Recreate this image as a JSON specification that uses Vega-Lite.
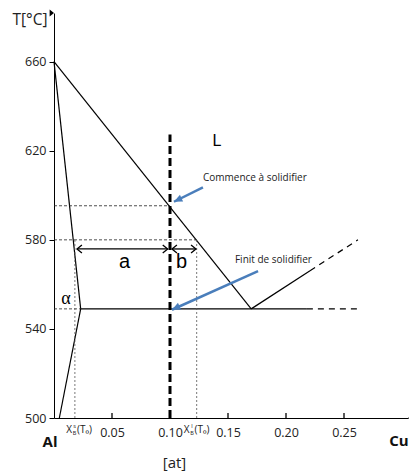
{
  "$schema": "https://vega.github.io/schema/vega-lite/v6.json",
  "width": 354,
  "height": 405,
  "autosize": {"type": "none"},
  "padding": {"left": 54, "top": 13, "right": 1, "bottom": 54},
  "config": {"view": {"stroke": null}, "font": "Open Sans"},
  "datasets": {
    "phase": [
      {"part": "liquidus", "x": 0, "t": 660, "x2": 0.17, "t2": 549},
      {"part": "solidus", "x": 0, "t": 660, "x2": 0.023, "t2": 549},
      {"part": "solvus", "x": 0.023, "t": 549, "x2": 0.0046, "t2": 500},
      {"part": "eutectic", "x": 0.023, "t": 549, "x2": 0.218, "t2": 549},
      {"part": "theta liquidus", "x": 0.17, "t": 549, "x2": 0.2207, "t2": 566.1}
    ],
    "phaseDashed": [
      {"part": "eutectic", "x": 0.218, "t": 549, "x2": 0.265, "t2": 549},
      {"part": "theta liquidus", "x": 0.2207, "t": 566.1, "x2": 0.262, "t2": 580}
    ],
    "guides": [
      {"x": 0, "t": 595.3, "x2": 0.1, "t2": 595.3},
      {"x": 0, "t": 580, "x2": 0.123, "t2": 580},
      {"x": 0, "t": 549, "x2": 0.023, "t2": 549}
    ],
    "tie": [
      {"x": 0.018, "t": 500, "x2": 0.018, "t2": 580},
      {"x": 0.123, "t": 500, "x2": 0.123, "t2": 580}
    ],
    "composition": [{"x": 0.1, "t": 500, "x2": 0.1, "t2": 627.3}],
    "lever": [
      {"seg": "a", "x": 0.0198, "t": 575.9, "x2": 0.098, "t2": 575.9},
      {"seg": "b", "x": 0.1017, "t": 575.9, "x2": 0.1224, "t2": 575.9}
    ],
    "leverHeads": [
      {"x": 0.0198, "t": 575.9, "dir": "left"},
      {"x": 0.098, "t": 575.9, "dir": "right"},
      {"x": 0.1017, "t": 575.9, "dir": "left"},
      {"x": 0.1224, "t": 575.9, "dir": "right"}
    ],
    "leverText": [
      {"label": "a", "x": 0.0608, "t": 567.5},
      {"label": "b", "x": 0.1099, "t": 567.5}
    ],
    "pointers": [
      {"x": 0.1284, "t": 603.5, "x2": 0.1034, "t2": 597.1},
      {"x": 0.1759, "t": 565.9, "x2": 0.1017, "t2": 548.6}
    ],
    "captions": [
      {"label": "Commence à solidifier", "x": 0.1284, "t": 607.9},
      {"label": "Finit de solidifier", "x": 0.156, "t": 571.1}
    ],
    "ends": [
      {"label": "Al", "x": -0.0034, "t": 489.4},
      {"label": "Cu", "x": 0.2974, "t": 489.6}
    ],
    "xb": [
      {"phase": "s", "x": 0.0177, "t": 494.8},
      {"phase": "l", "x": 0.119, "t": 494.8}
    ],
    "xticks": [
      {"x": 0.05, "t": 500, "t2": 502.2},
      {"x": 0.1, "t": 500, "t2": 502.2},
      {"x": 0.15, "t": 500, "t2": 502.2},
      {"x": 0.2, "t": 500, "t2": 502.2},
      {"x": 0.25, "t": 500, "t2": 502.2}
    ],
    "axisEnds": [
      {"axis": "x", "x": 0.30517, "t": 500},
      {"axis": "y", "x": 0, "t": 681.85}
    ]
  },
  "layer": [
    {
      "data": {"name": "phase"},
      "mark": {"type": "rule", "color": "black", "strokeWidth": 1.2},
      "encoding": {
        "x": {
          "field": "x", "type": "quantitative",
          "scale": {"domain": [0, 0.30517], "nice": false, "zero": false},
          "axis": {
            "values": [0.05, 0.1, 0.15, 0.2, 0.25], "format": ".2f", "grid": false,
            "domainColor": "black", "ticks": false, "labelPadding": 8,
            "labelFont": "Open Sans", "labelFontSize": 12.5, "labelColor": "#222",
            "title": "[at]", "titleFont": "Open Sans", "titleFontSize": 15, "titleFontWeight": "normal",
            "titleColor": "#222", "titleX": 120, "titleY": 44, "titleBaseline": "middle", "titleAlign": "center"
          }
        },
        "y": {
          "field": "t", "type": "quantitative",
          "scale": {"domain": [500, 681.85], "nice": false, "zero": false},
          "axis": {
            "values": [500, 540, 580, 620, 660], "grid": false,
            "domainColor": "black", "tickColor": "black", "tickSize": 5, "labelPadding": 3,
            "labelFont": "Open Sans", "labelFontSize": 12.5, "labelColor": "#222",
            "title": "T[°C]", "titleFont": "Open Sans", "titleFontSize": 15.5, "titleFontWeight": "normal",
            "titleColor": "#222", "titleAngle": 0, "titleX": -7, "titleY": 6, "titleAlign": "right", "titleBaseline": "middle"
          }
        },
        "x2": {"field": "x2"},
        "y2": {"field": "t2"}
      }
    },
    {
      "data": {"name": "xticks"},
      "mark": {"type": "rule", "color": "black", "strokeWidth": 1.3},
      "encoding": {
        "x": {"field": "x", "type": "quantitative"},
        "y": {"field": "t", "type": "quantitative"},
        "y2": {"field": "t2"}
      }
    },
    {
      "data": {"name": "phaseDashed"},
      "mark": {"type": "rule", "color": "black", "strokeWidth": 1.2, "strokeDash": [6, 5]},
      "encoding": {
        "x": {"field": "x", "type": "quantitative"},
        "y": {"field": "t", "type": "quantitative"},
        "x2": {"field": "x2"},
        "y2": {"field": "t2"}
      }
    },
    {
      "data": {"name": "guides"},
      "mark": {"type": "rule", "color": "#222", "strokeWidth": 0.8, "strokeDash": [3, 2]},
      "encoding": {
        "x": {"field": "x", "type": "quantitative"},
        "y": {"field": "t", "type": "quantitative"},
        "x2": {"field": "x2"},
        "y2": {"field": "t2"}
      }
    },
    {
      "data": {"name": "tie"},
      "mark": {"type": "rule", "color": "#555", "strokeWidth": 0.8, "strokeDash": [2, 2]},
      "encoding": {
        "x": {"field": "x", "type": "quantitative"},
        "y": {"field": "t", "type": "quantitative"},
        "x2": {"field": "x2"},
        "y2": {"field": "t2"}
      }
    },
    {
      "data": {"name": "composition"},
      "mark": {"type": "rule", "color": "black", "strokeWidth": 3, "strokeDash": [8, 4]},
      "encoding": {
        "x": {"field": "x", "type": "quantitative"},
        "y": {"field": "t", "type": "quantitative"},
        "x2": {"field": "x2"},
        "y2": {"field": "t2"}
      }
    },
    {
      "data": {"name": "lever"},
      "mark": {"type": "rule", "color": "black", "strokeWidth": 1.3},
      "encoding": {
        "x": {"field": "x", "type": "quantitative"},
        "y": {"field": "t", "type": "quantitative"},
        "x2": {"field": "x2"},
        "y2": {"field": "t2"}
      }
    },
    {
      "data": {"name": "leverHeads"},
      "mark": {"type": "point", "filled": false, "stroke": "black", "strokeWidth": 1.3, "size": 81, "opacity": 1},
      "encoding": {
        "x": {"field": "x", "type": "quantitative"},
        "y": {"field": "t", "type": "quantitative"},
        "shape": {
          "field": "dir", "type": "nominal", "legend": null,
          "scale": {"domain": ["left", "right"], "range": ["M1.1,-0.9L0,0L1.1,0.9", "M-1.1,-0.9L0,0L-1.1,0.9"]}
        }
      }
    },
    {
      "data": {"name": "pointers"},
      "mark": {"type": "rule", "color": "#4a7ebb", "strokeWidth": 2.5},
      "encoding": {
        "x": {"field": "x", "type": "quantitative"},
        "y": {"field": "t", "type": "quantitative"},
        "x2": {"field": "x2"},
        "y2": {"field": "t2"}
      }
    },
    {
      "data": {"name": "pointers"},
      "mark": {"type": "point", "filled": true, "color": "#4a7ebb", "opacity": 1, "size": 70, "angle": 155, "shape": "M0,0L-2,-0.9L-2,0.9Z"},
      "encoding": {
        "x": {"field": "x2", "type": "quantitative"},
        "y": {"field": "t2", "type": "quantitative"}
      }
    },
    {
      "data": {"name": "axisEnds"},
      "mark": {"type": "point", "filled": true, "color": "black", "opacity": 1, "size": 64},
      "encoding": {
        "x": {"field": "x", "type": "quantitative"},
        "y": {"field": "t", "type": "quantitative"},
        "shape": {
          "field": "axis", "type": "nominal", "legend": null,
          "scale": {"domain": ["x", "y"], "range": ["M0,0L-1.6,-0.7L-1.6,0.7Z", "M0,0L-0.7,1.6L0.7,1.6Z"]}
        }
      }
    },
    {
      "data": {"name": "leverText"},
      "mark": {"type": "text", "font": "Liberation Sans", "fontSize": 20, "color": "black", "baseline": "alphabetic", "align": "center"},
      "encoding": {
        "x": {"field": "x", "type": "quantitative"},
        "y": {"field": "t", "type": "quantitative"},
        "text": {"field": "label"}
      }
    },
    {
      "data": {"values": [{"label": "L", "x": 0.1405, "t": 624.5}]},
      "mark": {"type": "text", "font": "Liberation Sans", "fontSize": 16, "color": "black", "baseline": "middle", "align": "center"},
      "encoding": {
        "x": {"field": "x", "type": "quantitative"},
        "y": {"field": "t", "type": "quantitative"},
        "text": {"field": "label"}
      }
    },
    {
      "data": {"values": [{"label": "α", "x": 0.0103, "t": 551.3}]},
      "mark": {"type": "text", "font": "Liberation Serif", "fontSize": 18, "color": "black", "baseline": "alphabetic", "align": "center"},
      "encoding": {
        "x": {"field": "x", "type": "quantitative"},
        "y": {"field": "t", "type": "quantitative"},
        "text": {"field": "label"}
      }
    },
    {
      "data": {"name": "captions"},
      "mark": {"type": "text", "font": "Open Sans", "fontSize": 10, "color": "#222", "baseline": "middle", "align": "left"},
      "encoding": {
        "x": {"field": "x", "type": "quantitative"},
        "y": {"field": "t", "type": "quantitative"},
        "text": {"field": "label"}
      }
    },
    {
      "data": {"name": "ends"},
      "mark": {"type": "text", "font": "Open Sans", "fontSize": 15, "fontWeight": "bold", "color": "#111", "baseline": "middle", "align": "center"},
      "encoding": {
        "x": {"field": "x", "type": "quantitative"},
        "y": {"field": "t", "type": "quantitative"},
        "text": {"field": "label"}
      }
    },
    {
      "data": {"name": "xb"},
      "mark": {"type": "text", "font": "Open Sans", "fontSize": 10, "color": "#222", "baseline": "middle", "align": "right", "dx": -2.5},
      "encoding": {
        "x": {"field": "x", "type": "quantitative"},
        "y": {"field": "t", "type": "quantitative"},
        "text": {"value": "X"}
      }
    },
    {
      "data": {"name": "xb"},
      "mark": {"type": "text", "font": "Open Sans", "fontSize": 5.5, "color": "#222", "baseline": "middle", "align": "center", "dy": -3.6},
      "encoding": {
        "x": {"field": "x", "type": "quantitative"},
        "y": {"field": "t", "type": "quantitative"},
        "text": {"field": "phase"}
      }
    },
    {
      "data": {"name": "xb"},
      "mark": {"type": "text", "font": "Open Sans", "fontSize": 5.5, "color": "#222", "baseline": "middle", "align": "center", "dy": 3.4},
      "encoding": {
        "x": {"field": "x", "type": "quantitative"},
        "y": {"field": "t", "type": "quantitative"},
        "text": {"value": "B"}
      }
    },
    {
      "data": {"name": "xb"},
      "mark": {"type": "text", "font": "Open Sans", "fontSize": 10, "color": "#222", "baseline": "middle", "align": "left", "dx": 2.5},
      "encoding": {
        "x": {"field": "x", "type": "quantitative"},
        "y": {"field": "t", "type": "quantitative"},
        "text": {"value": "(T₀)"}
      }
    }
  ]
}
